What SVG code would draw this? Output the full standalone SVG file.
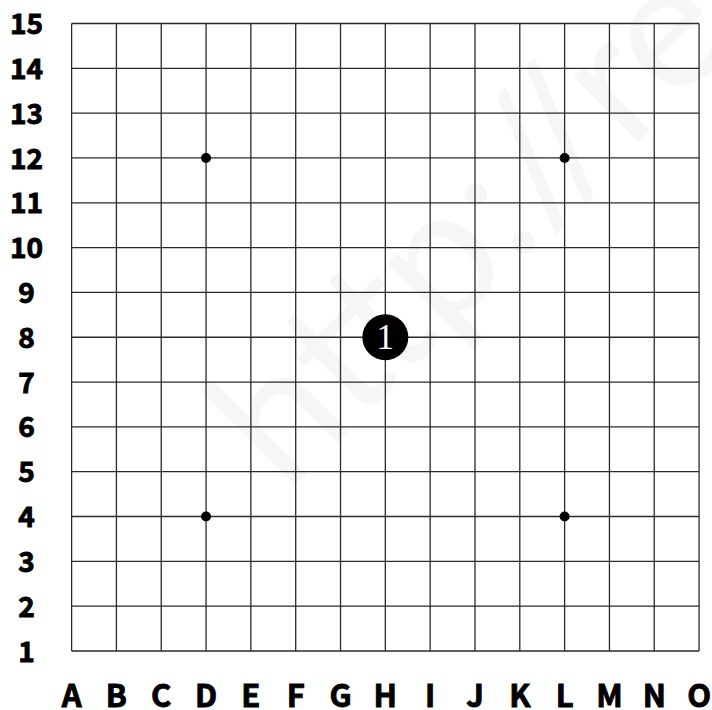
<svg xmlns="http://www.w3.org/2000/svg" width="712" height="710" viewBox="0 0 712 710">
  <style>
    .grid { stroke: #2a2a2a; stroke-width: 1.3; fill: none; }
    .star { fill: #000; }
    .row { font-family: "Noto Sans CJK SC", "Noto Sans", sans-serif; font-weight: bold; font-size: 28px; fill: #000; stroke: #000; stroke-width: 0.9; text-anchor: middle; }
    .col { font-family: "Noto Sans CJK SC", "Noto Sans", sans-serif; font-weight: bold; font-size: 31px; fill: #000; stroke: #000; stroke-width: 0.9; text-anchor: middle; }
    .num { font-family: "Liberation Serif", "DejaVu Serif", serif; font-size: 35px; fill: #fff; text-anchor: middle; }
    .wm { font-family: "Lato", "Open Sans", sans-serif; font-weight: 400; font-size: 180px; fill: #000; opacity: 0.03; }
  </style>
  <rect width="712" height="710" fill="#fff"/>
  <g id="watermark">
    <text class="wm" transform="translate(286,494) rotate(-45)">http://re</text>
  </g>
  <g id="board">
    <path class="grid" d="M71.6 23.5V650.98M116.42 23.5V650.98M161.24 23.5V650.98M206.06 23.5V650.98M250.88 23.5V650.98M295.7 23.5V650.98M340.52 23.5V650.98M385.34 23.5V650.98M430.16 23.5V650.98M474.98 23.5V650.98M519.8 23.5V650.98M564.62 23.5V650.98M609.44 23.5V650.98M654.26 23.5V650.98M699.08 23.5V650.98M71.6 23.5H699.08M71.6 68.32H699.08M71.6 113.14H699.08M71.6 157.96H699.08M71.6 202.78H699.08M71.6 247.6H699.08M71.6 292.42H699.08M71.6 337.24H699.08M71.6 382.06H699.08M71.6 426.88H699.08M71.6 471.7H699.08M71.6 516.52H699.08M71.6 561.34H699.08M71.6 606.16H699.08M71.6 650.98H699.08"/>
  </g>
  <g id="star-points">
    <circle class="star" cx="206.06" cy="157.96" r="5"/>
    <circle class="star" cx="564.62" cy="157.96" r="5"/>
    <circle class="star" cx="206.06" cy="516.52" r="5"/>
    <circle class="star" cx="564.62" cy="516.52" r="5"/>
  </g>
  <g id="stone-1">
    <circle cx="385.34" cy="337.24" r="23" fill="#000"/>
    <text class="num" x="385.34" y="349">1</text>
  </g>
  <g id="row-labels">
    <text class="row" x="26.5" y="34">15</text>
    <text class="row" x="26.5" y="78.8">14</text>
    <text class="row" x="26.5" y="123.6">13</text>
    <text class="row" x="26.5" y="168.5">12</text>
    <text class="row" x="26.5" y="213.3">11</text>
    <text class="row" x="26.5" y="258.1">10</text>
    <text class="row" x="26.5" y="302.9">9</text>
    <text class="row" x="26.5" y="347.7">8</text>
    <text class="row" x="26.5" y="392.6">7</text>
    <text class="row" x="26.5" y="437.4">6</text>
    <text class="row" x="26.5" y="482.2">5</text>
    <text class="row" x="26.5" y="527">4</text>
    <text class="row" x="26.5" y="571.8">3</text>
    <text class="row" x="26.5" y="616.7">2</text>
    <text class="row" x="26.5" y="661.5">1</text>
  </g>
  <g id="column-labels">
    <text class="col" x="71.6" y="706.5">A</text>
    <text class="col" x="116.42" y="706.5">B</text>
    <text class="col" x="161.24" y="706.5">C</text>
    <text class="col" x="206.06" y="706.5">D</text>
    <text class="col" x="250.88" y="706.5">E</text>
    <text class="col" x="295.7" y="706.5">F</text>
    <text class="col" x="340.52" y="706.5">G</text>
    <text class="col" x="385.34" y="706.5">H</text>
    <text class="col" x="430.16" y="706.5">I</text>
    <text class="col" x="474.98" y="706.5">J</text>
    <text class="col" x="519.8" y="706.5">K</text>
    <text class="col" x="564.62" y="706.5">L</text>
    <text class="col" x="609.44" y="706.5">M</text>
    <text class="col" x="654.26" y="706.5">N</text>
    <text class="col" x="699.08" y="706.5">O</text>
  </g>
</svg>
